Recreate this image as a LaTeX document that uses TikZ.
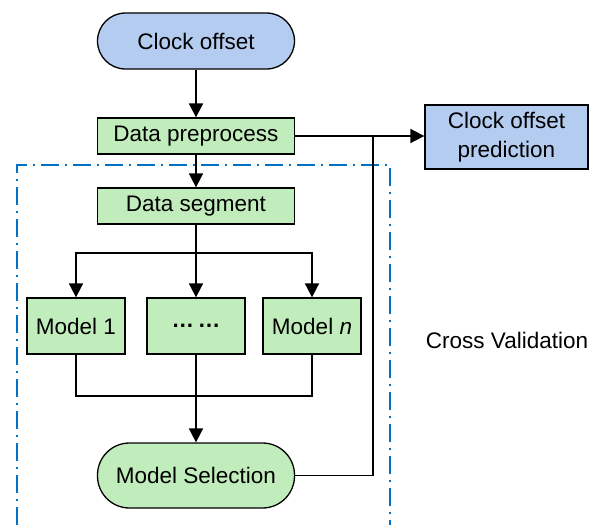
\documentclass[tikz,border=0pt]{standalone}
\usepackage{fontspec}
\setmainfont{Liberation Sans}
\usetikzlibrary{arrows.meta}
\definecolor{boxblue}{RGB}{180,204,239}
\definecolor{boxgreen}{RGB}{193,237,189}
\definecolor{cvblue}{RGB}{0,114,198}
\begin{document}
\begin{tikzpicture}[x=1pt,y=-1pt,
  font=\fontsize{22.5}{27}\selectfont,
  base/.style={draw=black, line width=1.3pt, inner sep=0pt, align=center},
  proc/.style={base, fill=boxgreen, minimum width=197pt, minimum height=36pt},
  model/.style={base, fill=boxgreen, minimum width=98pt, minimum height=56pt},
  term/.style={base, minimum width=197pt},
  conn/.style={line width=1.8pt},
  arr/.style={conn, -{Triangle[length=14pt,width=14pt]}},
  cv/.style={cvblue, line width=1.8pt, dash pattern=on 18pt off 6pt on 2pt off 6pt}
]
\useasboundingbox (0,0) rectangle (590,525);

\node[term, fill=boxblue, minimum height=56pt, rounded corners=28pt] (clock) at (196,41) {Clock offset};
\node[proc] (pre) at (196,136) {Data preprocess};
\node[proc] (seg) at (196,206) {Data segment};
\node[model] (m1) at (76,326) {Model 1};
\node[model] (dots) at (196,326) {\textbf{\char"2026\,\char"2026}};
\node[model] (mn) at (312,326) {Model \textit{n}};
\node[term, fill=boxgreen, minimum height=65pt, rounded corners=32pt] (sel) at (196,475.5) {Model Selection};
\node[base, fill=boxblue, minimum width=163pt, minimum height=64pt, font=\fontsize{22.5}{29}\selectfont] (pred) at (506.5,137) {Clock offset\\prediction};
\node[inner sep=0pt] (cvl) at (507,340) {Cross Validation};

\draw[cv] (17,525) -- (17,165) -- (390,165) -- (390,525);

\coordinate (br) at (196,253);
\coordinate (jn) at (196,396);
\coordinate (vt) at (373,136);

\draw[arr] (clock) -- (pre);
\draw[arr] (pre) -- (seg);
\draw[conn] (seg.south) -- (br);
\draw[arr] (br) -| (m1.north);
\draw[arr] (br) -| (mn.north);
\draw[arr] (br) -- (dots.north);
\draw[conn] (m1.south) |- (jn) -| (mn.south);
\draw[conn] (dots.south) -- (jn);
\draw[arr] (jn) -- (sel.north);
\draw[arr] (pre.east) -- (pre.east -| pred.west);
\draw[conn] (sel.east) -| (vt);
\end{tikzpicture}
\end{document}
